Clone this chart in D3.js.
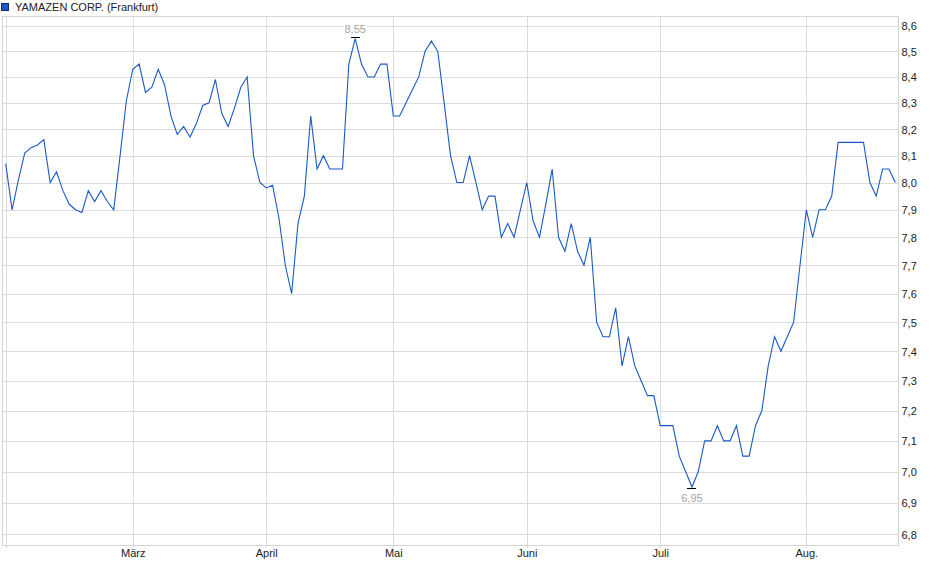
<!DOCTYPE html>
<html lang="de">
<head>
<meta charset="UTF-8">
<title>YAMAZEN CORP. (Frankfurt)</title>
<style>
    body { margin: 0; background: #fff; }
    svg { display: block; font-family: "Liberation Sans", Arial, sans-serif; }
    .grid line { stroke: #dcdcdc; shape-rendering: crispEdges; }
    .grid path { display: none; }
    .yaxis path, .yaxis line, .xaxis path, .xaxis line { display: none; }
    .yaxis text, .xaxis text { font-size: 11px; fill: #222; }
</style>
</head>
<body>
<div id="chart"></div>
<script src="https://d3js.org/d3.v7.min.js"></script>
<script>
// daily closing prices, Frankfurt, trading days Feb - Aug
const prices = [
    8.07, 7.90, 8.01, 8.11, 8.13, 8.14, 8.16, 8.00, 8.04, 7.97,
    7.92, 7.90, 7.89, 7.97, 7.93, 7.97, 7.93, 7.90, 8.10, 8.31,
    8.43, 8.45, 8.34, 8.36, 8.43, 8.37, 8.25, 8.18, 8.21, 8.17,
    8.22, 8.29, 8.30, 8.39, 8.26, 8.21, 8.28, 8.36, 8.40, 8.10,
    8.00, 7.98, 7.99, 7.87, 7.70, 7.60, 7.85, 7.95, 8.25, 8.05,
    8.10, 8.05, 8.05, 8.05, 8.45, 8.55, 8.45, 8.40, 8.40, 8.45,
    8.45, 8.25, 8.25, 8.30, 8.35, 8.40, 8.50, 8.54, 8.50, 8.30,
    8.10, 8.00, 8.00, 8.10, 8.00, 7.90, 7.95, 7.95, 7.80, 7.85,
    7.80, 7.90, 8.00, 7.86, 7.80, 7.92, 8.05, 7.80, 7.75, 7.85,
    7.75, 7.70, 7.80, 7.50, 7.45, 7.45, 7.55, 7.35, 7.45, 7.35,
    7.30, 7.25, 7.25, 7.15, 7.15, 7.15, 7.05, 7.00, 6.95, 7.00,
    7.10, 7.10, 7.15, 7.10, 7.10, 7.15, 7.05, 7.05, 7.15, 7.20,
    7.35, 7.45, 7.40, 7.45, 7.50, 7.70, 7.90, 7.80, 7.90, 7.90,
    7.95, 8.15, 8.15, 8.15, 8.15, 8.15, 8.00, 7.95, 8.05, 8.05,
    8.00
];

// first trading day of each month (index into prices)
const monthIdx = [0, 20, 41, 61, 82, 103, 126];
const monthLabels = ["", "März", "April", "Mai", "Juni", "Juli", "Aug."];

const yTicks = [6.8, 6.9, 7.0, 7.1, 7.2, 7.3, 7.4, 7.5, 7.6, 7.7,
                7.8, 7.9, 8.0, 8.1, 8.2, 8.3, 8.4, 8.5, 8.6];

const seriesName = "YAMAZEN CORP. (Frankfurt)";
const lineColor = "#1b5ac4";

const W = 940, H = 579;
const frame = {left: 2.5, right: 898.5, top: 16.5, bottom: 545.5};

const svg = d3.select("#chart").append("svg")
    .attr("width", W)
    .attr("height", H);

const x = d3.scaleLinear().domain([0, prices.length - 1]).range([5.7, 895.3]);
const y = d3.scaleLog().domain([6.8, 8.6]).range([534.3, 26]);

const fmt = v => d3.format(".1f")(v).replace(".", ",");
const fmt2 = v => d3.format(".2f")(v).replace(".", ",");

// horizontal grid
svg.append("g")
    .attr("class", "grid")
    .attr("transform", "translate(" + frame.left + ",0)")
    .call(d3.axisRight(y).tickValues(yTicks).tickSize(frame.right - frame.left).tickFormat(""));

// vertical grid at month starts
svg.append("g")
    .attr("class", "grid")
    .attr("transform", "translate(0," + frame.top + ")")
    .call(d3.axisBottom(x).tickValues(monthIdx).tickSize(frame.bottom - frame.top + 2).tickFormat(""));

// frame
svg.append("rect")
    .attr("x", frame.left).attr("y", frame.top)
    .attr("width", frame.right - frame.left)
    .attr("height", frame.bottom - frame.top)
    .attr("fill", "none")
    .attr("stroke", "#d4d4d4")
    .attr("shape-rendering", "crispEdges");

// right axis labels
svg.append("g")
    .attr("class", "yaxis")
    .attr("transform", "translate(" + (frame.right + 3) + ",0)")
    .call(d3.axisRight(y).tickValues(yTicks).tickSize(0).tickPadding(0).tickFormat(fmt))
    .selectAll("text").attr("dy", "0.36em");

// month labels
svg.append("g")
    .attr("class", "xaxis")
    .attr("transform", "translate(0," + frame.bottom + ")")
    .call(d3.axisBottom(x).tickValues(monthIdx).tickSize(0).tickPadding(4)
        .tickFormat((d, i) => monthLabels[i]));

// price line
const line = d3.line()
    .x((d, i) => x(i))
    .y(d => y(d));

svg.append("path")
    .datum(prices)
    .attr("fill", "none")
    .attr("stroke", lineColor)
    .attr("stroke-width", 1.1)
    .attr("d", line);

// high / low markers
const hiIdx = d3.maxIndex(prices), loIdx = d3.minIndex(prices);

function marker(i, above) {
    const px = x(i), py = y(prices[i]);
    const ty = above ? py - 1 : py + 1;
    const g = svg.append("g");
    const bg = g.append("rect").attr("fill", "#fff");
    const label = g.append("text")
        .attr("x", px)
        .attr("y", above ? ty - 4.5 : ty + 14)
        .attr("text-anchor", "middle")
        .attr("font-size", "11px")
        .attr("fill", "#a3a3a3")
        .text(fmt2(prices[i]));
    const b = label.node().getBBox();
    bg.attr("x", b.x - 1).attr("y", b.y + 1)
        .attr("width", b.width + 2).attr("height", b.height - 2);
    g.append("line")
        .attr("x1", px - 4.5).attr("x2", px + 4.5)
        .attr("y1", ty).attr("y2", ty)
        .attr("stroke", "#000").attr("stroke-width", 1)
        .attr("shape-rendering", "crispEdges");
}
marker(hiIdx, true);
marker(loIdx, false);

// legend
const legend = svg.append("g");
legend.append("rect")
    .attr("x", 1.5).attr("y", 3.5)
    .attr("width", 7).attr("height", 7)
    .attr("fill", lineColor)
    .attr("stroke", "#0d2f6e");
legend.append("text")
    .attr("x", 15).attr("y", 10.5)
    .attr("font-size", "11px")
    .attr("fill", "#222")
    .text(seriesName);
</script>
</body>
</html>
